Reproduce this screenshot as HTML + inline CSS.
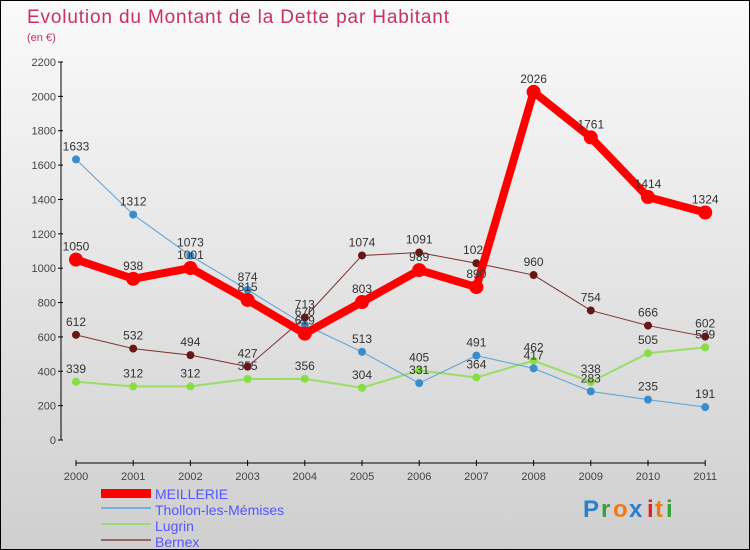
<!DOCTYPE html>
<html><head><meta charset="utf-8"><style>
body{margin:0}
#c{width:750px;height:550px;position:relative;box-sizing:border-box;border:1px solid #000;background:linear-gradient(#fafafa,#cfcfcf);font-family:"Liberation Sans",sans-serif;overflow:hidden}
</style></head><body>
<div id="c">
<svg id="s" width="748" height="548" style="position:absolute;left:0;top:0">
<text x="26" y="22" font-size="19" fill="#c8325e" textLength="422">Evolution du Montant de la Dette par Habitant</text>
<text x="26" y="40" font-size="11" fill="#c8325e">(en €)</text>
<g id="g"></g>
<g>
<rect x="100" y="488" width="50" height="9" fill="#f00"/>
<line x1="100" y1="507" x2="150" y2="507" stroke="#7aaedd" stroke-width="2"/>
<line x1="100" y1="523" x2="150" y2="523" stroke="#99dd77" stroke-width="2"/>
<line x1="100" y1="539" x2="150" y2="539" stroke="#996666" stroke-width="2"/>
<g font-size="14" fill="#5555ff">
<text x="154" y="498">MEILLERIE</text>
<text x="154" y="514">Thollon-les-Mémises</text>
<text x="154" y="530">Lugrin</text>
<text x="154" y="546">Bernex</text>
</g></g>
<g font-size="24" font-weight="bold">
<text x="582" y="516" fill="#2a7fd0">P</text><text x="600" y="516" fill="#3aa03a">r</text><text x="612" y="516" fill="#f07a10">o</text><text x="628" y="516" fill="#2a7fd0">x</text><text x="646" y="516" fill="#e02020">i</text><text x="654" y="516" fill="#f07a10">t</text><text x="665" y="516" fill="#3aa03a">i</text>
</g>
</svg></div>
<script>
const years=["2000","2001","2002","2003","2004","2005","2006","2007","2008","2009","2010","2011"];
const yTicks=[0,200,400,600,800,1000,1200,1400,1600,1800,2000,2200];
const meillerie=[1050,938,1001,815,619,803,989,890,2026,1761,1414,1324];
const thollon=[1633,1312,1073,874,670,513,331,491,417,283,235,191];
const lugrin=[339,312,312,355,356,304,405,364,462,338,505,539];
const bernex=[612,532,494,427,713,1074,1091,1029,960,754,666,602];
const NS="http://www.w3.org/2000/svg";
const g=document.getElementById('g');
const X=i=>75+i*57.2, Y=v=>439-v*(378/2200);
function el(t,a,p){const e=document.createElementNS(NS,t);for(const k in a)e.setAttribute(k,a[k]);(p||g).appendChild(e);return e;}
let ax=el('line',{x1:60,y1:Y(2200),x2:60,y2:Y(0),stroke:'#000'});

let bx=el('line',{x1:X(0),y1:462,x2:X(11),y2:462,stroke:'#000'});

yTicks.forEach(v=>{el('line',{x1:57,y1:Y(v),x2:62,y2:Y(v),stroke:'#000'});
 const t=el('text',{x:55,y:Y(v)+4,'font-size':11,fill:'#444','text-anchor':'end'});t.textContent=v;
 });
years.forEach((y,i)=>{el('line',{x1:X(i),y1:459,x2:X(i),y2:465,stroke:'#000'});
 const t=el('text',{x:X(i),y:479,'font-size':11,fill:'#444','text-anchor':'middle'});t.textContent=y;
 });
function series(d,col,w,r,dot,name){
 const p=el('polyline',{points:d.map((v,i)=>X(i)+','+Y(v)).join(' '),fill:'none',stroke:col,'stroke-width':w,'stroke-linejoin':'round'});
 
 d.forEach((v,i)=>{const c=el('circle',{cx:X(i),cy:Y(v),r:r,fill:dot});
  
  const t=el('text',{x:X(i),y:Y(v)-9,'font-size':12,fill:'#333','text-anchor':'middle'});t.textContent=v;
  });
}
series(lugrin,'#99dd66',2,4,'#88dd44','lugrin');
series(thollon,'#5aa0d8',1,4,'#3a8ccc','thollon');
series(bernex,'#7a3030',1,4,'#661818','bernex');
series(meillerie,'#ff0000',8,7,'#ff0000','meillerie');
</script>
</body></html>
